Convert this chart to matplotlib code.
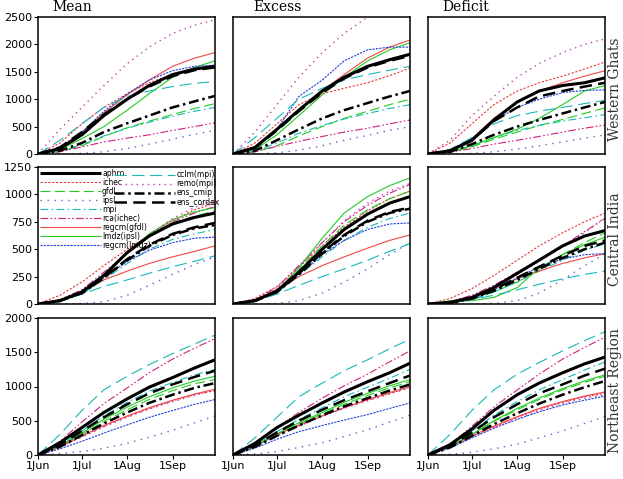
import matplotlib
matplotlib.use("Agg")
import matplotlib.pyplot as plt

# days since 1 Jun for the read-off points
days = [0, 15, 30, 45, 61, 76, 92, 107, 121]
tick_days = [0, 30, 61, 92]
tick_labels = ["1Jun", "1Jul", "1Aug", "1Sep"]

models = ["aphro", "ichec", "gfdl", "ipsl", "mpi", "rca(ichec)", "regcm(gfdl)",
          "lmdz(ipsl)", "regcm(lmdz)", "cclm(mpi)", "remo(mpi)", "ens_cmip", "ens_cordex"]

col_titles = ["Mean", "Excess", "Deficit"]
row_titles = ["Western Ghats", "Central India", "Northeast Region"]
ymax = [2500, 1250, 2000]
ystep = [500, 250, 500]

# cumulative rainfall (mm)
wg_mean = {
    "aphro":       [0, 100, 350, 700, 1000, 1250, 1450, 1550, 1600],
    "ichec":       [0, 200, 550, 850, 1100, 1300, 1450, 1550, 1620],
    "gfdl":        [0, 50, 150, 320, 480, 600, 720, 830, 920],
    "ipsl":        [0, 0, 10, 40, 100, 180, 270, 360, 430],
    "mpi":         [0, 50, 170, 330, 470, 580, 690, 780, 850],
    "rca(ichec)":  [0, 40, 130, 220, 290, 350, 430, 500, 570],
    "regcm(gfdl)": [0, 120, 400, 750, 1080, 1350, 1600, 1750, 1850],
    "lmdz(ipsl)":  [0, 80, 280, 500, 800, 1100, 1400, 1580, 1700],
    "regcm(lmdz)": [0, 120, 400, 780, 1100, 1350, 1520, 1600, 1620],
    "cclm(mpi)":   [0, 250, 550, 850, 1050, 1150, 1230, 1290, 1320],
    "remo(mpi)":   [0, 450, 850, 1250, 1650, 1950, 2200, 2350, 2450],
    "ens_cmip":    [0, 60, 200, 400, 560, 700, 850, 960, 1060],
    "ens_cordex":  [0, 120, 400, 720, 1000, 1230, 1420, 1530, 1580],
}
wg_excess = {
    "aphro":       [0, 120, 450, 800, 1150, 1400, 1600, 1720, 1820],
    "ichec":       [0, 200, 550, 900, 1100, 1200, 1300, 1430, 1570],
    "gfdl":        [0, 40, 150, 330, 500, 650, 780, 900, 1000],
    "ipsl":        [0, 0, 20, 70, 150, 250, 340, 430, 500],
    "mpi":         [0, 50, 200, 380, 520, 640, 740, 830, 900],
    "rca(ichec)":  [0, 40, 140, 230, 320, 400, 470, 550, 620],
    "regcm(gfdl)": [0, 120, 450, 800, 1150, 1450, 1750, 1950, 2080],
    "lmdz(ipsl)":  [0, 80, 350, 700, 1080, 1400, 1700, 1900, 2030],
    "regcm(lmdz)": [0, 100, 450, 1050, 1350, 1700, 1900, 1950, 1950],
    "cclm(mpi)":   [0, 300, 650, 1000, 1200, 1350, 1450, 1530, 1600],
    "remo(mpi)":   [0, 400, 900, 1400, 1850, 2200, 2500, 2700, 2850],
    "ens_cmip":    [0, 60, 250, 450, 650, 800, 930, 1050, 1150],
    "ens_cordex":  [0, 110, 430, 780, 1120, 1380, 1580, 1700, 1790],
}
wg_deficit = {
    "aphro":       [0, 60, 250, 620, 950, 1150, 1250, 1300, 1390],
    "ichec":       [0, 200, 550, 900, 1150, 1300, 1420, 1550, 1680],
    "gfdl":        [0, 30, 130, 270, 400, 520, 630, 740, 840],
    "ipsl":        [0, 0, 10, 40, 90, 150, 220, 290, 350],
    "mpi":         [0, 40, 150, 300, 430, 520, 600, 660, 720],
    "rca(ichec)":  [0, 30, 100, 180, 250, 320, 400, 470, 530],
    "regcm(gfdl)": [0, 60, 280, 650, 950, 1150, 1300, 1420, 1520],
    "lmdz(ipsl)":  [0, 40, 150, 300, 450, 650, 900, 1150, 1250],
    "regcm(lmdz)": [0, 70, 280, 600, 850, 1000, 1120, 1160, 1170],
    "cclm(mpi)":   [0, 80, 300, 550, 700, 780, 850, 920, 980],
    "remo(mpi)":   [0, 250, 700, 1050, 1400, 1650, 1850, 2000, 2100],
    "ens_cmip":    [0, 40, 180, 350, 500, 620, 740, 850, 950],
    "ens_cordex":  [0, 60, 250, 600, 850, 1050, 1150, 1230, 1300],
}
ci_mean = {
    "aphro":       [0, 30, 110, 260, 470, 620, 730, 790, 830],
    "ichec":       [0, 80, 200, 350, 500, 630, 760, 860, 920],
    "gfdl":        [0, 30, 110, 270, 470, 630, 740, 800, 850],
    "ipsl":        [0, 0, 5, 20, 80, 170, 270, 360, 430],
    "mpi":         [0, 25, 90, 220, 370, 500, 590, 640, 680],
    "rca(ichec)":  [0, 40, 130, 290, 460, 620, 750, 830, 890],
    "regcm(gfdl)": [0, 30, 110, 220, 300, 370, 430, 480, 530],
    "lmdz(ipsl)":  [0, 30, 100, 260, 470, 640, 770, 840, 880],
    "regcm(lmdz)": [0, 30, 100, 240, 390, 490, 560, 600, 610],
    "cclm(mpi)":   [0, 30, 90, 160, 220, 280, 340, 390, 440],
    "remo(mpi)":   [0, 30, 110, 270, 460, 630, 780, 880, 950],
    "ens_cmip":    [0, 30, 100, 240, 400, 530, 630, 690, 720],
    "ens_cordex":  [0, 30, 100, 240, 410, 540, 640, 700, 740],
}
ci_excess = {
    "aphro":       [0, 30, 120, 290, 500, 680, 820, 920, 980],
    "ichec":       [0, 50, 160, 340, 530, 700, 850, 960, 1030],
    "gfdl":        [0, 30, 120, 310, 530, 720, 860, 960, 1030],
    "ipsl":        [0, 0, 5, 30, 100, 200, 320, 450, 560],
    "mpi":         [0, 25, 100, 260, 430, 580, 700, 780, 830],
    "rca(ichec)":  [0, 40, 150, 350, 560, 750, 900, 1010, 1090],
    "regcm(gfdl)": [0, 30, 120, 250, 350, 430, 510, 580, 630],
    "lmdz(ipsl)":  [0, 30, 120, 330, 600, 830, 980, 1080, 1150],
    "regcm(lmdz)": [0, 30, 110, 270, 450, 580, 680, 730, 740],
    "cclm(mpi)":   [0, 25, 90, 170, 250, 320, 400, 480, 550],
    "remo(mpi)":   [0, 30, 130, 330, 560, 760, 920, 1030, 1100],
    "ens_cmip":    [0, 30, 110, 270, 460, 620, 750, 830, 870],
    "ens_cordex":  [0, 30, 110, 280, 470, 630, 760, 840, 880],
}
ci_deficit = {
    "aphro":       [0, 15, 60, 150, 280, 400, 530, 620, 670],
    "ichec":       [0, 50, 140, 260, 400, 530, 650, 750, 830],
    "gfdl":        [0, 10, 40, 110, 200, 320, 450, 560, 650],
    "ipsl":        [0, 0, 0, 5, 30, 100, 220, 350, 460],
    "mpi":         [0, 10, 40, 110, 200, 300, 400, 490, 550],
    "rca(ichec)":  [0, 20, 80, 170, 290, 400, 530, 660, 780],
    "regcm(gfdl)": [0, 15, 60, 140, 230, 300, 370, 420, 460],
    "lmdz(ipsl)":  [0, 30, 30, 60, 150, 330, 450, 540, 610],
    "regcm(lmdz)": [0, 15, 50, 130, 240, 340, 410, 450, 460],
    "cclm(mpi)":   [0, 10, 40, 80, 130, 180, 230, 270, 300],
    "remo(mpi)":   [0, 15, 60, 150, 270, 390, 520, 650, 790],
    "ens_cmip":    [0, 10, 50, 120, 220, 320, 420, 500, 560],
    "ens_cordex":  [0, 10, 50, 130, 240, 340, 440, 530, 580],
}
ne_mean = {
    "aphro":       [0, 180, 400, 620, 820, 990, 1130, 1270, 1390],
    "ichec":       [0, 120, 270, 420, 560, 680, 790, 880, 940],
    "gfdl":        [0, 130, 300, 490, 660, 810, 940, 1040, 1100],
    "ipsl":        [0, 20, 50, 100, 170, 260, 360, 470, 570],
    "mpi":         [0, 150, 350, 570, 770, 930, 1060, 1170, 1250],
    "rca(ichec)":  [0, 200, 480, 750, 980, 1200, 1400, 1560, 1700],
    "regcm(gfdl)": [0, 120, 280, 430, 570, 690, 800, 890, 960],
    "lmdz(ipsl)":  [0, 130, 320, 520, 700, 850, 980, 1080, 1150],
    "regcm(lmdz)": [0, 90, 200, 320, 440, 550, 650, 740, 810],
    "cclm(mpi)":   [0, 300, 650, 950, 1150, 1320, 1480, 1620, 1750],
    "remo(mpi)":   [0, 110, 260, 410, 550, 670, 780, 870, 950],
    "ens_cmip":    [0, 120, 290, 460, 620, 760, 880, 980, 1050],
    "ens_cordex":  [0, 150, 350, 550, 740, 900, 1030, 1140, 1230],
}
ne_excess = {
    "aphro":       [0, 170, 400, 580, 760, 920, 1070, 1200, 1340],
    "ichec":       [0, 130, 300, 440, 570, 690, 800, 900, 990],
    "gfdl":        [0, 120, 300, 450, 600, 740, 870, 980, 1070],
    "ipsl":        [0, 15, 50, 110, 180, 270, 370, 480, 580],
    "mpi":         [0, 140, 340, 520, 690, 850, 990, 1120, 1250],
    "rca(ichec)":  [0, 150, 400, 620, 830, 1010, 1180, 1360, 1520],
    "regcm(gfdl)": [0, 130, 300, 430, 570, 690, 810, 910, 1000],
    "lmdz(ipsl)":  [0, 130, 310, 470, 620, 770, 900, 1010, 1100],
    "regcm(lmdz)": [0, 100, 230, 340, 430, 510, 590, 680, 760],
    "cclm(mpi)":   [0, 250, 550, 850, 1050, 1230, 1390, 1550, 1690],
    "remo(mpi)":   [0, 120, 280, 420, 560, 680, 790, 890, 980],
    "ens_cmip":    [0, 120, 280, 430, 580, 710, 830, 940, 1030],
    "ens_cordex":  [0, 140, 330, 500, 660, 800, 930, 1050, 1160],
}
ne_deficit = {
    "aphro":       [0, 150, 380, 650, 880, 1050, 1200, 1330, 1430],
    "ichec":       [0, 120, 270, 410, 550, 670, 770, 850, 900],
    "gfdl":        [0, 120, 300, 490, 660, 810, 950, 1060, 1150],
    "ipsl":        [0, 10, 40, 90, 160, 250, 350, 460, 560],
    "mpi":         [0, 140, 350, 580, 780, 950, 1100, 1240, 1360],
    "rca(ichec)":  [0, 150, 420, 700, 950, 1180, 1400, 1570, 1720],
    "regcm(gfdl)": [0, 120, 280, 420, 560, 680, 780, 860, 920],
    "lmdz(ipsl)":  [0, 120, 300, 500, 680, 830, 970, 1080, 1170],
    "regcm(lmdz)": [0, 100, 250, 390, 520, 630, 730, 800, 860],
    "cclm(mpi)":   [0, 300, 650, 950, 1180, 1350, 1520, 1670, 1800],
    "remo(mpi)":   [0, 110, 260, 400, 530, 650, 750, 830, 880],
    "ens_cmip":    [0, 110, 280, 450, 610, 750, 880, 990, 1080],
    "ens_cordex":  [0, 130, 330, 550, 740, 900, 1030, 1160, 1260],
}

panels = [[wg_mean, wg_excess, wg_deficit],
          [ci_mean, ci_excess, ci_deficit],
          [ne_mean, ne_excess, ne_deficit]]

# colour, linestyle, linewidth per model
styles = {
    "aphro":       ("black", "-", 2.2),
    "ichec":       ("#e83838", (0, (2, 1.5)), 0.8),
    "gfdl":        ("#22cc22", (0, (9, 4)), 0.8),
    "ipsl":        ("#6060c8", (0, (1, 4)), 1.0),
    "mpi":         ("#18b8b8", (0, (7, 3, 1.5, 3)), 0.8),
    "rca(ichec)":  ("#d0207f", (0, (7, 2, 1.5, 2, 1.5, 2)), 0.8),
    "regcm(gfdl)": ("#f04848", "-", 0.8),
    "lmdz(ipsl)":  ("#22cc22", "-", 0.8),
    "regcm(lmdz)": ("#2040e0", (0, (2, 1)), 0.8),
    "cclm(mpi)":   ("#18b8b8", (0, (11, 5)), 0.8),
    "remo(mpi)":   ("#c040b0", (0, (1, 3)), 1.0),
    "ens_cmip":    ("black", (0, (4, 1.5, 1, 1.5)), 1.8),
    "ens_cordex":  ("black", (0, (5, 2.5)), 1.8),
}

plt.rcParams["font.family"] = "DejaVu Sans"
fig = plt.figure(figsize=(6.23, 4.79), dpi=100)
W, H = 623.0, 479.0
lefts = [38, 233, 428]
tops = [17, 167, 318]
pw, ph = 177, 137

leg_kw = dict(loc="upper left", frameon=False, fontsize=5.5, handlelength=8.0,
              handletextpad=0.15, labelspacing=0.0, borderpad=0, borderaxespad=0)

for r in range(3):
    for c in range(3):
        ax = fig.add_axes([lefts[c] / W, 1 - (tops[r] + ph) / H, pw / W, ph / H])
        data = panels[r][c]
        for m in models:
            col, ls, lw = styles[m]
            z = 3 if col == "black" else 2
            ax.plot(days, data[m], color=col, linestyle=ls, linewidth=lw,
                    label=m, zorder=z, solid_capstyle="butt", dash_capstyle="butt")
        ax.set_xlim(0, 121)
        ax.set_ylim(0, ymax[r])
        ax.set_xticks(tick_days)
        ax.set_yticks(range(0, ymax[r] + 1, ystep[r]))
        for s in ax.spines.values():
            s.set_linewidth(1.1)
        ax.tick_params(direction="out", length=3, width=0.8, labelsize=8, pad=1)
        if c == 0:
            ax.set_yticklabels([str(v) for v in range(0, ymax[r] + 1, ystep[r])])
        else:
            ax.tick_params(axis="y", length=0, labelleft=False)
        if r == 2:
            ax.set_xticklabels(tick_labels)
        else:
            ax.tick_params(axis="x", length=0, labelbottom=False)
        if r == 0:
            fig.text((lefts[c] + [14, 20, 14][c]) / W, 1 - 7 / H, col_titles[c],
                     family="DejaVu Serif", fontsize=10, ha="left", va="center")
        if c == 2:
            ax.text(1.055, 0.47, row_titles[r], transform=ax.transAxes, rotation=90,
                    family="DejaVu Serif", fontsize=10, ha="center", va="center",
                    color="#333333")
        if r == 1 and c == 0:
            h, l = ax.get_legend_handles_labels()
            leg1 = ax.legend(h[:9], l[:9], bbox_to_anchor=(0.01, 0.985), **leg_kw)
            ax.add_artist(leg1)
            ax.legend(h[9:], l[9:], bbox_to_anchor=(0.43, 0.975), **leg_kw)

fig.savefig("out.png", dpi=100)
